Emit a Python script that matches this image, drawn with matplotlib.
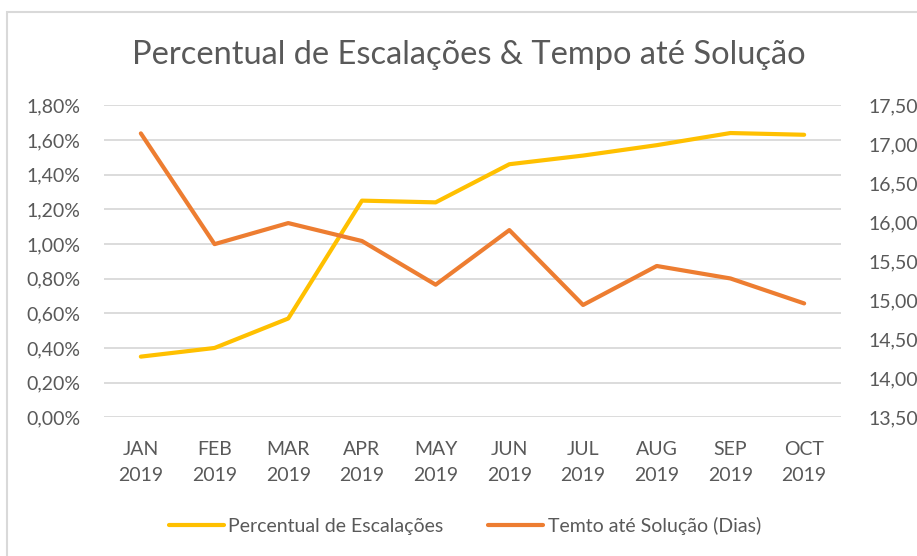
import matplotlib
matplotlib.use("Agg")
import matplotlib.pyplot as plt
from matplotlib.patches import Rectangle
from matplotlib.ticker import FuncFormatter

plt.rcParams['font.family'] = ['Lato', 'DejaVu Sans']

meses = ['JAN\n2019', 'FEB\n2019', 'MAR\n2019', 'APR\n2019', 'MAY\n2019',
         'JUN\n2019', 'JUL\n2019', 'AUG\n2019', 'SEP\n2019', 'OCT\n2019']
escalacoes = [0.35, 0.40, 0.57, 1.25, 1.24, 1.46, 1.51, 1.57, 1.64, 1.63]  # %
tempo_dias = [17.14, 15.72, 15.99, 15.76, 15.20, 15.90, 14.94, 15.44, 15.28, 14.96]

cinza = '#595959'
amarelo = '#FFC000'
laranja = '#ED7D31'

fig = plt.figure(figsize=(9.17, 5.56), dpi=100)
fig.patch.set_facecolor('white')

# moldura do gráfico
fig.patches.append(Rectangle((7 / 917, -0.01), 1.0, 1 - 12 / 556 + 0.01,
                             transform=fig.transFigure, fill=False,
                             edgecolor='#D9D9D9', linewidth=1.5))

ax = fig.add_axes([104 / 917, 1 - 417.3 / 556, (841 - 104) / 917, (417.3 - 105.3) / 556])
ax2 = ax.twinx()

x = list(range(len(meses)))
l1, = ax.plot(x, [v / 100 for v in escalacoes], color=amarelo, linewidth=3,
              solid_capstyle='round', label='Percentual de Escalações')
l2, = ax2.plot(x, tempo_dias, color=laranja, linewidth=3,
               solid_capstyle='round', label='Temto até Solução (Dias)')

ax.set_xlim(-0.5, len(meses) - 0.5)
ax.set_ylim(0, 0.018)
ax.set_yticks([i * 0.002 for i in range(10)])
ax.yaxis.set_major_formatter(FuncFormatter(lambda v, p: f'{v * 100:.2f}%'.replace('.', ',')))
ax2.set_ylim(13.5, 17.5)
ax2.set_yticks([13.5 + 0.5 * i for i in range(9)])
ax2.yaxis.set_major_formatter(FuncFormatter(lambda v, p: f'{v:.2f}'.replace('.', ',')))

ax.set_xticks(x)
ax.set_xticklabels(meses, linespacing=1.65)
ax.grid(axis='y', color='#D9D9D9', linewidth=1.3)
ax.set_axisbelow(True)

for a in (ax, ax2):
    for s in a.spines.values():
        s.set_visible(False)
ax.tick_params(axis='y', length=0, colors=cinza, labelsize=14, pad=17)
ax.tick_params(axis='x', length=0, colors=cinza, labelsize=14, pad=17)
ax2.tick_params(axis='y', length=0, colors=cinza, labelsize=14, pad=20)

fig.text(469 / 917, 1 - 55 / 556, 'Percentual de Escalações & Tempo até Solução',
         ha='center', va='center', fontsize=23.5, color=cinza)

fig.legend(handles=[l1, l2], loc='center', bbox_to_anchor=(465 / 917, 1 - 526 / 556),
           ncol=2, frameon=False, fontsize=14, labelcolor=cinza,
           handlelength=2.8, handletextpad=0.25, columnspacing=2.3)

fig.savefig('out.png', dpi=100, facecolor='white')
